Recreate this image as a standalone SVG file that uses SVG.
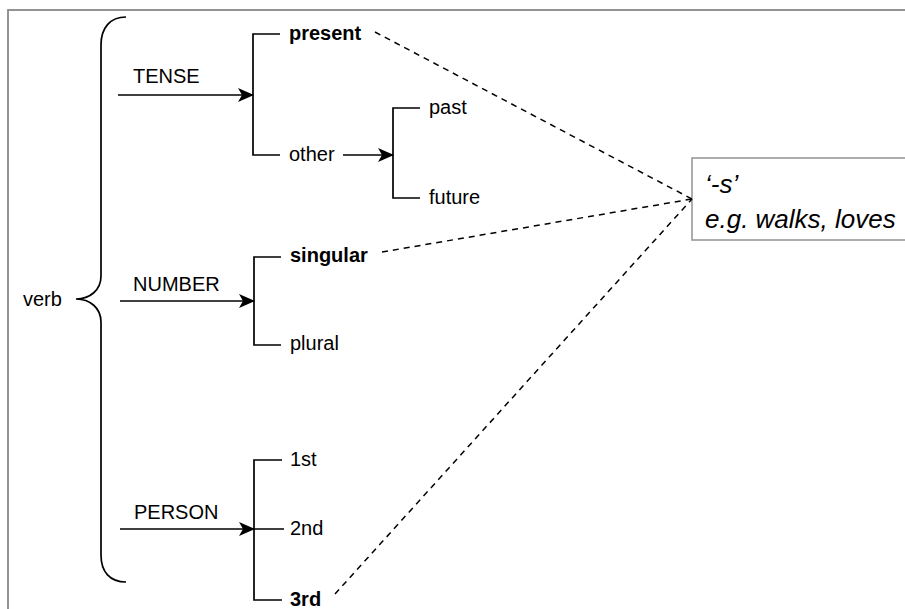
<svg xmlns="http://www.w3.org/2000/svg" width="905" height="609" viewBox="0 0 905 609">
  <style>
    .t { font-family: "Liberation Sans", Arial, sans-serif; font-size: 20px; fill: #000; }
    .b { font-weight: bold; }
    .note { font-family: "Liberation Sans", Arial, sans-serif; font-size: 26px; font-style: italic; fill: #000; }
    .ln { fill: none; stroke: #000; stroke-width: 1.7; }
    .dash { fill: none; stroke: #000; stroke-width: 1.5; stroke-dasharray: 6 5; }
  </style>
  <defs>
    <marker id="arrow" viewBox="0 0 16 14" refX="15" refY="7" markerWidth="16" markerHeight="14" markerUnits="userSpaceOnUse" orient="auto">
      <path d="M0,0 L16,7 L0,14 L4,7 Z" fill="#000"/>
    </marker>
  </defs>

  <rect width="905" height="609" fill="#fff"/>
  <!-- outer frame -->
  <rect x="8" y="10" width="920" height="620" fill="none" stroke="#888" stroke-width="1.8"/>

  <!-- curly brace grouping the verb features -->
  <g id="verb">
    <path class="ln" d="M126,17 C110,17 101,28 101,45 L101,276 C101,290 90,299 76,299 C90,299 101,308 101,322 L101,555 C101,572 110,582 126,582"/>
    <text class="t" x="23" y="306">verb</text>
  </g>

  <g id="tense">
    <text class="t" x="133" y="83">TENSE</text>
    <path class="ln" d="M280,34 H253 V155 H280"/>
    <text class="t b" x="289" y="40">present</text>
    <text class="t" x="289" y="161">other</text>
  </g>

  <g id="other-split">
    <path class="ln" d="M420,108 H393 V198 H420"/>
    <text class="t" x="429" y="114">past</text>
    <text class="t" x="429" y="204">future</text>
  </g>

  <g id="number">
    <text class="t" x="133" y="291">NUMBER</text>
    <path class="ln" d="M281,257 H254 V345 H281"/>
    <text class="t b" x="290" y="262">singular</text>
    <text class="t" x="290" y="350">plural</text>
  </g>

  <g id="person">
    <text class="t" x="134" y="519">PERSON</text>
    <path class="ln" d="M282,460 H254 V600 H282 M254,529 H284"/>
    <text class="t" x="290" y="466">1st</text>
    <text class="t" x="290" y="535">2nd</text>
    <text class="t b" x="290" y="606">3rd</text>
  </g>

  <g id="suffix">
    <rect x="692" y="158" width="230" height="82" fill="#fff" stroke="#999" stroke-width="1.6"/>
    <text class="note" x="705" y="193">‘-s’</text>
    <text class="note" x="705" y="228">e.g. walks, loves</text>
  </g>

  <g id="connectors">
    <line class="ln" x1="118" y1="95" x2="253" y2="95" marker-end="url(#arrow)"/>
    <line class="ln" x1="343" y1="155" x2="393" y2="155" marker-end="url(#arrow)"/>
    <line class="ln" x1="120" y1="301" x2="254" y2="301" marker-end="url(#arrow)"/>
    <line class="ln" x1="120" y1="529" x2="254" y2="529" marker-end="url(#arrow)"/>
    <line class="dash" x1="375" y1="32" x2="692" y2="199"/>
    <line class="dash" x1="382" y1="252" x2="692" y2="199"/>
    <line class="dash" x1="335" y1="594" x2="692" y2="199"/>
  </g>
</svg>
